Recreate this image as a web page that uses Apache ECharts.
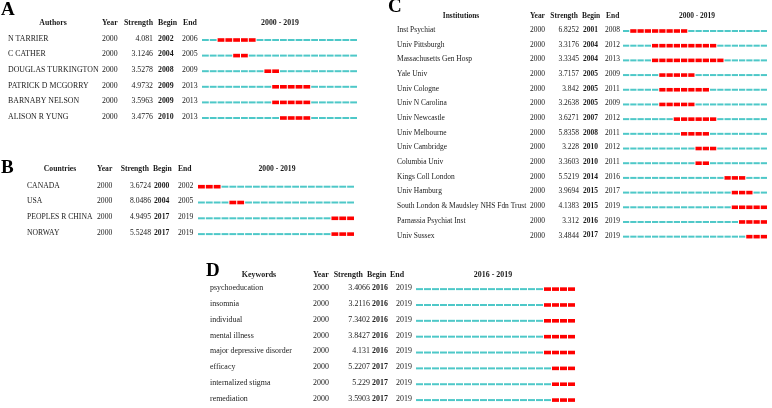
<!DOCTYPE html>
<html><head><meta charset="utf-8">
<script src="https://cdn.jsdelivr.net/npm/echarts@6/dist/echarts.min.js"></script>
<style>html,body{margin:0;padding:0;background:#fff}#c{width:772px;height:408px}</style>
</head><body><div id="c"></div>
<script>
// ---------- data ----------
const authorNames = ['N TARRIER','C CATHER','DOUGLAS TURKINGTON','PATRICK D MCGORRY','BARNABY NELSON','ALISON R YUNG'];
const authorYear = [2000,2000,2000,2000,2000,2000];
const authorStrength = ['4.081','3.1246','3.5278','4.9732','3.5963','3.4776'];
const authorBegin = [2002,2004,2008,2009,2009,2010];
const authorEnd = [2006,2005,2009,2013,2013,2013];

const countryNames = ['CANADA','USA','PEOPLES R CHINA','NORWAY'];
const countryYear = [2000,2000,2000,2000];
const countryStrength = ['3.6724','8.0486','4.9495','5.5248'];
const countryBegin = [2000,2004,2017,2017];
const countryEnd = [2002,2005,2019,2019];

const institutionNames = ['Inst Psychiat','Univ Pittsburgh','Massachusetts Gen Hosp','Yale Univ','Univ Cologne','Univ N Carolina','Univ Newcastle','Univ Melbourne','Univ Cambridge','Columbia Univ','Kings Coll London','Univ Hamburg','South London & Maudsley NHS Fdn Trust','Parnassia Psychiat Inst','Univ Sussex'];
const institutionYear = [2000,2000,2000,2000,2000,2000,2000,2000,2000,2000,2000,2000,2000,2000,2000];
const institutionStrength = ['6.8252','3.3176','3.3345','3.7157','3.842','3.2638','3.6271','5.8358','3.228','3.3603','5.5219','3.9694','4.1383','3.312','3.4844'];
const institutionBegin = [2001,2004,2004,2005,2005,2005,2007,2008,2010,2010,2014,2015,2015,2016,2017];
const institutionEnd = [2008,2012,2013,2009,2011,2009,2012,2011,2012,2011,2016,2017,2019,2019,2019];

const keywordNames = ['psychoeducation','insomnia','individual','mental illness','major depressive disorder','efficacy','internalized stigma','remediation'];
const keywordYear = [2000,2000,2000,2000,2000,2000,2000,2000];
const keywordStrength = ['3.4066','3.2116','7.3402','3.8427','4.131','5.2207','5.229','3.5903'];
const keywordBegin = [2016,2016,2016,2016,2016,2017,2017,2017];
const keywordEnd = [2019,2019,2019,2019,2019,2019,2019,2019];

const columnHeads = ['Year','Strength','Begin','End'];
const rangeStart = 2000, rangeEnd = 2019;

// ---------- layout ----------
const panels = [
  {letter:'A', head:'Authors', range:'2000 - 2019', names:authorNames, year:authorYear, strength:authorStrength, begin:authorBegin, end:authorEnd,
   L:{sx:0.87, letterX:1, letterY:10, headY:23, titleX:53, hYearX:102, hStrX:153, hBeginX:158, hEndX:183, rangeX:280,
      nameX:8, yearX:102, strX:153, beginX:158, endX:182, barL:202, barR:358, row0:40, step:15.6}},
  {letter:'B', head:'Countries', range:'2000 - 2019', names:countryNames, year:countryYear, strength:countryStrength, begin:countryBegin, end:countryEnd,
   L:{sx:0.85, letterX:1, letterY:168, headY:169, titleX:60, hYearX:97, hStrX:149, hBeginX:153, hEndX:178, rangeX:277,
      nameX:27, yearX:97, strX:151, beginX:154, endX:178, barL:198, barR:355, row0:186.7, step:15.8}},
  {letter:'C', head:'Institutions', range:'2000 - 2019', names:institutionNames, year:institutionYear, strength:institutionStrength, begin:institutionBegin, end:institutionEnd,
   L:{sx:0.83, letterX:388, letterY:7, headY:15.5, titleX:461, hYearX:530, hStrX:578, hBeginX:582, hEndX:606, rangeX:697,
      nameX:397, yearX:530, strX:579, beginX:583, endX:605, barL:623, barR:768, row0:31, step:14.69}},
  {letter:'D', head:'Keywords', range:'2016 - 2019', names:keywordNames, year:keywordYear, strength:keywordStrength, begin:keywordBegin, end:keywordEnd,
   L:{sx:0.88, letterX:206, letterY:271, headY:275, titleX:259, hYearX:313, hStrX:363, hBeginX:367, hEndX:390, rangeX:493,
      nameX:210, yearX:313, strX:370, beginX:372, endX:396, barL:416, barR:576, row0:289.3, step:16.2}}
];

const FONT = 'Liberation Serif';
const COLOR_BASE = '#4ec8c8', COLOR_BURST = '#ff0000';
function txt(x, y, s, bold, align, sx) {
  return {type:'text', x:x, y:y, scaleX:sx, silent:true,
    style:{text:s, fontFamily:FONT, fontSize:9, fontWeight:bold?'bold':'normal', fill:'#1a1a1a', align:align||'left', verticalAlign:'middle'}};
}

const grids = [], xAxes = [], yAxes = [], series = [], graphics = [];
panels.forEach((p, k) => {
  const L = p.L, n = p.names.length, sx = L.sx;
  grids.push({left:L.barL, width:L.barR - L.barL, top:L.row0 - L.step/2, height:n*L.step});
  xAxes.push({type:'value', gridIndex:k, min:rangeStart, max:rangeEnd + 1, show:false});
  yAxes.push({type:'category', gridIndex:k, data:p.names, inverse:true, show:false});

  // letter + headers
  graphics.push({type:'text', x:L.letterX, y:L.letterY, silent:true,
    style:{text:p.letter, fontFamily:FONT, fontSize:19, fontWeight:'bold', fill:'#000', align:'left', verticalAlign:'middle'}});
  graphics.push(txt(L.titleX, L.headY, p.head, true, 'center', sx));
  graphics.push(txt(L.hYearX, L.headY, columnHeads[0], true, 'left', sx));
  graphics.push(txt(L.hStrX, L.headY, columnHeads[1], true, 'right', sx));
  graphics.push(txt(L.hBeginX, L.headY, columnHeads[2], true, 'left', sx));
  graphics.push(txt(L.hEndX, L.headY, columnHeads[3], true, 'left', sx));
  graphics.push(txt(L.rangeX, L.headY, p.range, true, 'center', sx));

  // row text
  series.push({type:'custom', xAxisIndex:k, yAxisIndex:k, silent:true, clip:false, animation:false,
    data:p.names.map((nm, i) => [rangeStart, i]),
    renderItem:function(params, api){
      const i = params.dataIndex;
      const y = api.coord([rangeStart, api.value(1)])[1] - 1.5;
      return {type:'group', children:[
        txt(L.nameX, y, p.names[i], false, 'left', sx),
        txt(L.yearX, y, String(p.year[i]), false, 'left', sx),
        txt(L.strX, y, String(p.strength[i]), false, 'right', sx),
        txt(L.beginX, y, String(p.begin[i]), true, 'left', sx),
        txt(L.endX, y, String(p.end[i]), false, 'left', sx)
      ]};
    }});

  // year cells
  const cells = [];
  p.names.forEach((nm, i) => {
    for (let yr = rangeStart; yr <= rangeEnd; yr++) {
      cells.push([yr, i, (yr >= p.begin[i] && yr <= p.end[i]) ? 1 : 0]);
    }
  });
  series.push({type:'custom', xAxisIndex:k, yAxisIndex:k, silent:true, clip:false, animation:false,
    data:cells,
    renderItem:function(params, api){
      const yr = api.value(0), row = api.value(1), burst = api.value(2);
      const a = api.coord([yr, row]), b = api.coord([yr + 1, row]);
      const h = burst ? 3.6 : 2;
      return {type:'rect', shape:{x:a[0], y:a[1] - h/2, width:Math.max(b[0] - a[0] - 1, 0.5), height:h},
        style:{fill: burst ? COLOR_BURST : COLOR_BASE}};
    }});
});

const chart = echarts.init(document.getElementById('c'), null, {renderer:'canvas'});
chart.setOption({
  animation:false,
  backgroundColor:'#fff',
  grid:grids, xAxis:xAxes, yAxis:yAxes, series:series,
  graphic:{elements:graphics}
});
</script></body></html>
